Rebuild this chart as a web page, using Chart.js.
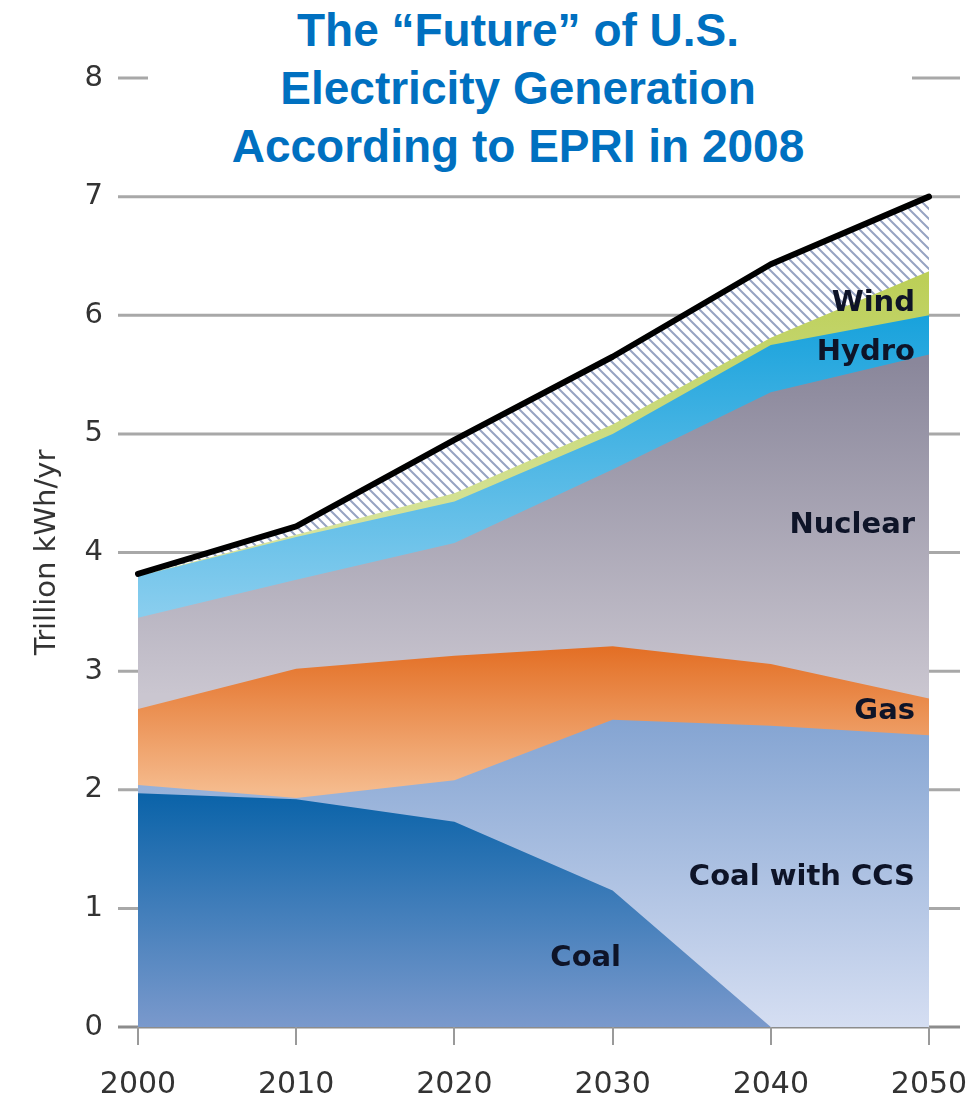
<!DOCTYPE html>
<html>
<head>
<meta charset="utf-8">
<script src="https://cdn.jsdelivr.net/npm/chart.js@4.4.1/dist/chart.umd.min.js"></script>
<style>
  body { margin: 0; background: #fff; }
  #wrap { position: relative; width: 979px; height: 1099px; }
  #title {
    position: absolute; left: 148px; top: 0; width: 740px; height: 182px;
    padding: 1px 24px 0 0; background: #fff; color: #0070c0;
    font: bold 46px "Liberation Sans", Arial, sans-serif; line-height: 58px; text-align: center;
  }
</style>
</head>
<body>
<div id="wrap">
  <canvas id="chart" width="979" height="1099"></canvas>
  <div id="title">The “Future” of U.S.<br>Electricity Generation<br>According to EPRI in 2008</div>
</div>
<script>
// trillion kWh/yr
const years = ['2000', '2010', '2020', '2030', '2040', '2050'];
const coal = [1.97, 1.92, 1.73, 1.15, 0, 0];
const coalCcs = [0.07, 0.01, 0.35, 1.44, 2.54, 2.46];
const gas = [0.64, 1.09, 1.05, 0.62, 0.52, 0.31];
const nuclear = [0.77, 0.75, 0.95, 1.49, 2.29, 2.90];
const hydro = [0.35, 0.36, 0.35, 0.30, 0.40, 0.33];
const wind = [0, 0.02, 0.07, 0.08, 0.06, 0.37];
const efficiency = [0.02, 0.07, 0.45, 0.57, 0.62, 0.63]; // hatched wedge under the black line

const yTicks = [0, 1, 2, 3, 4, 5, 6, 7, 8];
const areaNames = ['Wind', 'Hydro', 'Nuclear', 'Gas', 'Coal with CCS', 'Coal'];

const canvas = document.getElementById('chart');
const ctx = canvas.getContext('2d');

// vertical gradient tied to y values
const grad = (stops) => (c) => {
    const { chart } = c;
    if (!chart.chartArea) return stops[0][1];
    const y = chart.scales.y;
    const g = chart.ctx.createLinearGradient(0, y.getPixelForValue(stops[0][0]), 0, y.getPixelForValue(stops[stops.length - 1][0]));
    g.addColorStop(0, stops[0][1]);
    g.addColorStop(1, stops[stops.length - 1][1]);
    return g;
};

const makeHatch = () => {
    const p = document.createElement('canvas');
    p.width = 10; p.height = 10;
    const g = p.getContext('2d');
    g.fillStyle = '#ffffff';
    g.fillRect(0, 0, 10, 10);
    g.strokeStyle = '#97a3c2';
    g.lineWidth = 2;
    g.beginPath();
    g.moveTo(-1, -1); g.lineTo(11, 11);
    g.moveTo(-1, 9); g.lineTo(1, 11);
    g.moveTo(9, -1); g.lineTo(11, 1);
    g.stroke();
    return ctx.createPattern(p, 'repeat');
};

const area = (label, data, bg) => ({
    label, data,
    backgroundColor: bg,
    borderColor: 'transparent',
    borderWidth: 0,
    fill: 'origin',
    pointRadius: 0,
    tension: 0
});

const datasets = [
    area('Coal', coal, grad([[2.0, '#0862a8'], [0, '#7a99cc']])),
    area('Coal with CCS', coalCcs, grad([[2.6, '#84a4d2'], [0, '#d5def2']])),
    area('Gas', gas, grad([[3.2, '#e36f25'], [2.0, '#f5ba8c']])),
    area('Nuclear', nuclear, grad([[5.6, '#8a879b'], [2.8, '#cac6d0']])),
    area('Hydro', hydro, grad([[6.0, '#18a2dc'], [3.5, '#88cdee']])),
    area('Wind', wind, grad([[6.3, '#bccf58'], [4.2, '#d6e39a']])),
    Object.assign(area('Efficiency', efficiency, makeHatch()), {
        borderColor: '#000000', borderWidth: 6, borderCapStyle: 'round', borderJoinStyle: 'round'
    })
];

// gridlines run past the plot on both sides, behind the areas
const gridPlugin = {
    id: 'extGrid',
    beforeDraw(chart) {
        const { ctx, chartArea, scales } = chart;
        ctx.save();
        yTicks.forEach(v => {
            const y = scales.y.getPixelForValue(v);
            ctx.strokeStyle = v === 0 ? '#8c8c8c' : '#a8a8a8';
            ctx.lineWidth = 3;
            ctx.beginPath();
            ctx.moveTo(chartArea.left - 20, y);
            ctx.lineTo(chartArea.right + 31, y);
            ctx.stroke();
        });
        ctx.restore();
    }
};

// in-plot series names
const labelPlugin = {
    id: 'areaLabels',
    afterDatasetsDraw(chart) {
        const { ctx, scales } = chart;
        const xr = scales.x.getPixelForValue(5) - 14;
        const spots = [
            [xr, 6.1, 'right'], [xr, 5.69, 'right'], [xr, 4.23, 'right'],
            [xr, 2.66, 'right'], [xr, 1.26, 'right'], [null, 0.58, 'center']
        ];
        ctx.save();
        ctx.font = 'bold 29px "DejaVu Sans"';
        ctx.fillStyle = '#0e1428';
        ctx.textBaseline = 'middle';
        areaNames.forEach((name, i) => {
            let [x, v, align] = spots[i];
            if (x === null) {
                const a = scales.x.getPixelForValue(2), b = scales.x.getPixelForValue(3);
                x = a + 0.83 * (b - a);
            }
            ctx.textAlign = align;
            ctx.fillText(name, x, scales.y.getPixelForValue(v));
        });
        ctx.restore();
    }
};

new Chart(canvas, {
    type: 'line',
    data: { labels: years, datasets },
    options: {
        responsive: false,
        animation: false,
        devicePixelRatio: 1,
        layout: { padding: { top: 78, right: 50, left: 0, bottom: 0 } },
        plugins: {
            legend: { display: false },
            tooltip: { enabled: false },
            filler: { drawTime: 'beforeDatasetsDraw' }
        },
        scales: {
            x: {
                type: 'category',
                offset: false,
                grid: { display: true, drawOnChartArea: false, drawTicks: true, tickLength: 18, color: '#9a9a9a', lineWidth: 2 },
                border: { display: false },
                ticks: { font: { family: 'DejaVu Sans', size: 30 }, color: '#333', padding: 22, maxRotation: 0, autoSkip: false },
                afterFit: s => { s.height = 72; s.paddingLeft = 0; s.paddingRight = 0; }
            },
            y: {
                stacked: true,
                min: 0,
                max: 8,
                ticks: { stepSize: 1, font: { family: 'DejaVu Sans', size: 29 }, color: '#333', padding: 35 },
                grid: { display: false, drawTicks: false },
                border: { display: false },
                title: {
                    display: true, text: 'Trillion kWh/yr', color: '#333',
                    font: { family: 'DejaVu Sans', size: 29 }, padding: { top: 30, bottom: 0 }
                },
                afterFit: s => { s.width = 138; }
            }
        }
    },
    plugins: [gridPlugin, labelPlugin]
});
</script>
</body>
</html>
